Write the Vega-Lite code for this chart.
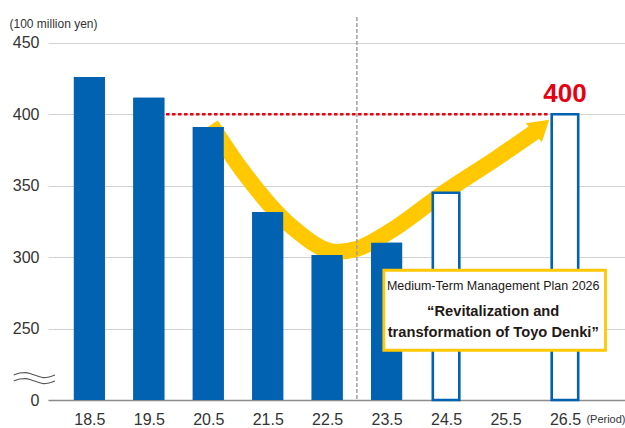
{
  "$schema": "https://vega.github.io/schema/vega-lite/v6.json",
  "width": 577,
  "height": 383,
  "autosize": {"type": "none"},
  "padding": {"left": 48, "top": 17, "right": 0, "bottom": 28},
  "background": "white",
  "data": {"values": [{}]},
  "config": {
    "view": {"stroke": null},
    "font": "Liberation Sans",
    "axis": {"labelFont": "Liberation Sans", "titleFont": "Liberation Sans"}
  },
  "datasets": {
    "sales": [
      {"period": 18.5, "value": 426, "kind": "actual"},
      {"period": 19.5, "value": 411.5, "kind": "actual"},
      {"period": 20.5, "value": 391, "kind": "actual"},
      {"period": 21.5, "value": 331.5, "kind": "actual"},
      {"period": 22.5, "value": 301.5, "kind": "actual"},
      {"period": 23.5, "value": 310, "kind": "actual"},
      {"period": 24.5, "value": 345, "kind": "plan"},
      {"period": 26.5, "value": 400, "kind": "plan"}
    ],
    "arrow": [
      {"x": 20.549, "y": 392.6},
      {"x": 21.062, "y": 361.1},
      {"x": 21.888, "y": 321.8},
      {"x": 22.665, "y": 303.6},
      {"x": 22.995, "y": 305.7},
      {"x": 23.541, "y": 317.6},
      {"x": 24.483, "y": 345.7},
      {"x": 25.359, "y": 369.5},
      {"x": 26.0, "y": 387.8}
    ],
    "breakmark": [
      {"line": "a", "x": 17.227, "y": 217.5},
      {"line": "a", "x": 17.326, "y": 218.9},
      {"line": "a", "x": 17.425, "y": 219.2},
      {"line": "a", "x": 17.524, "y": 218.2},
      {"line": "a", "x": 17.624, "y": 216.8},
      {"line": "a", "x": 17.723, "y": 215.7},
      {"line": "a", "x": 17.822, "y": 216.1},
      {"line": "a", "x": 17.921, "y": 217.5},
      {"line": "b", "x": 17.227, "y": 213.3},
      {"line": "b", "x": 17.326, "y": 214.7},
      {"line": "b", "x": 17.425, "y": 215.0},
      {"line": "b", "x": 17.524, "y": 214.0},
      {"line": "b", "x": 17.624, "y": 212.6},
      {"line": "b", "x": 17.723, "y": 211.5},
      {"line": "b", "x": 17.822, "y": 211.9},
      {"line": "b", "x": 17.921, "y": 213.3}
    ]
  },
  "layer": [
    {
      "data": {"name": "sales"},
      "transform": [{"filter": "datum.kind == 'actual'"}],
      "mark": {"type": "bar", "size": 31, "color": "#0062B1"},
      "encoding": {
        "x": {
          "field": "period", "type": "quantitative",
          "scale": {"domain": [17.888, 27.426], "nice": false, "zero": false},
          "axis": {
            "values": [18.5, 19.5, 20.5, 21.5, 22.5, 23.5, 24.5, 25.5, 26.5],
            "format": ".1f", "grid": false, "ticks": false,
            "domainColor": "#8c8c8c", "domainWidth": 1.5,
            "labelFontSize": 16, "labelColor": "#333333", "labelPadding": 11,
            "title": "(Period)", "titleFontSize": 11, "titleFontWeight": "normal", "titleColor": "#333333",
            "titleAlign": "right", "titleBaseline": "middle", "titleX": 577, "titleY": 19
          }
        },
        "y": {
          "field": "value", "type": "quantitative",
          "scale": {"domain": [200, 468], "nice": false, "zero": false},
          "axis": {
            "values": [200, 250, 300, 350, 400, 450],
            "labelExpr": "datum.value == 200 ? '0' : datum.label",
            "domain": false, "ticks": false, "grid": true, "gridColor": "#d2d2d2", "gridWidth": 1,
            "labelFontSize": 16, "labelColor": "#333333", "labelPadding": 9,
            "title": "(100 million yen)", "titleFontSize": 12, "titleFontWeight": "normal", "titleColor": "#333333",
            "titleAngle": 0, "titleAlign": "left", "titleBaseline": "middle", "titleX": -39, "titleY": 6
          }
        },
        "y2": {"datum": 200}
      }
    },
    {
      "data": {"name": "arrow"},
      "mark": {"type": "line", "interpolate": "monotone", "color": "#FFC800", "strokeWidth": 16, "strokeCap": "butt", "strokeJoin": "round"},
      "encoding": {
        "x": {"field": "x", "type": "quantitative"},
        "y": {"field": "y", "type": "quantitative"}
      }
    },
    {
      "mark": {"type": "point", "filled": true, "shape": "M0,-1L1,0.6L-1,0.6Z", "size": 625, "angle": 50, "color": "#FFC800", "opacity": 1},
      "encoding": {
        "x": {"datum": 26.073, "type": "quantitative"},
        "y": {"datum": 390.4, "type": "quantitative"}
      }
    },
    {
      "data": {"name": "sales"},
      "transform": [{"filter": "datum.kind == 'actual'"}],
      "mark": {"type": "bar", "size": 31, "color": "#0062B1"},
      "encoding": {
        "x": {"field": "period", "type": "quantitative"},
        "y": {"field": "value", "type": "quantitative"},
        "y2": {"datum": 200}
      }
    },
    {
      "data": {"name": "sales"},
      "transform": [{"filter": "datum.kind == 'plan'"}],
      "mark": {"type": "bar", "size": 26.5, "fill": "#ffffff", "stroke": "#0062B1", "strokeWidth": 2.6},
      "encoding": {
        "x": {"field": "period", "type": "quantitative"},
        "y": {"field": "value", "type": "quantitative"},
        "y2": {"datum": 200}
      }
    },
    {
      "mark": {"type": "rule", "color": "#a0a0a0", "strokeWidth": 1.5, "strokeDash": [4, 2]},
      "encoding": {"x": {"datum": 23, "type": "quantitative"}}
    },
    {
      "mark": {"type": "rule", "color": "#E60012", "strokeWidth": 2.5, "strokeDash": [3.5, 2.5]},
      "encoding": {
        "x": {"datum": 19.79, "type": "quantitative"},
        "x2": {"datum": 26.24},
        "y": {"datum": 400, "type": "quantitative"}
      }
    },
    {
      "mark": {"type": "text", "text": "400", "color": "#E60012", "fontSize": 26, "fontWeight": "bold", "align": "center", "baseline": "alphabetic", "dy": -12},
      "encoding": {
        "x": {"datum": 26.5, "type": "quantitative"},
        "y": {"datum": 400, "type": "quantitative"}
      }
    },
    {
      "mark": {"type": "rect", "fill": "#ffffff", "stroke": "#FFC800", "strokeWidth": 2.8},
      "encoding": {
        "x": {"datum": 23.453, "type": "quantitative"},
        "x2": {"datum": 27.182},
        "y": {"datum": 290.8, "type": "quantitative"},
        "y2": {"datum": 234.8}
      }
    },
    {
      "mark": {"type": "text", "text": "Medium-Term Management Plan 2026", "color": "#231815", "fontSize": 12.5, "align": "center", "baseline": "middle"},
      "encoding": {
        "x": {"datum": 25.293, "type": "quantitative"},
        "y": {"datum": 279.8, "type": "quantitative"}
      }
    },
    {
      "mark": {"type": "text", "text": "“Revitalization and", "color": "#231815", "fontSize": 14.7, "fontWeight": "bold", "align": "center", "baseline": "middle"},
      "encoding": {
        "x": {"datum": 25.293, "type": "quantitative"},
        "y": {"datum": 261.8, "type": "quantitative"}
      }
    },
    {
      "mark": {"type": "text", "text": "transformation of Toyo Denki”", "color": "#231815", "fontSize": 14.7, "fontWeight": "bold", "align": "center", "baseline": "middle"},
      "encoding": {
        "x": {"datum": 25.293, "type": "quantitative"},
        "y": {"datum": 246.9, "type": "quantitative"}
      }
    },
    {
      "data": {"name": "breakmark"},
      "mark": {"type": "line", "interpolate": "monotone", "color": "#555555", "strokeWidth": 1.2, "clip": false},
      "encoding": {
        "x": {"field": "x", "type": "quantitative"},
        "y": {"field": "y", "type": "quantitative"},
        "detail": {"field": "line", "type": "nominal"}
      }
    }
  ]
}
